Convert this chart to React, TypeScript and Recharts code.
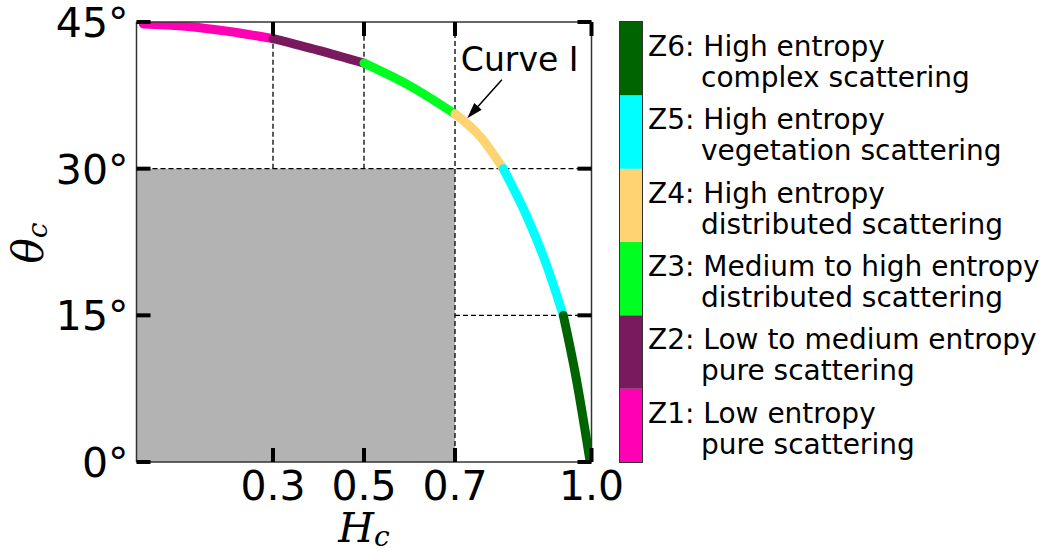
import { ComposedChart, Line, XAxis, YAxis, ReferenceArea, ReferenceLine, BarChart, Bar } from 'recharts'

// curve I
const curveH = [0.015, 0.1, 0.2, 0.3, 0.4, 0.5, 0.6, 0.7, 0.755, 0.806, 0.858, 0.9, 0.938, 0.967, 0.986, 0.996]
const curveTheta = [44.8, 44.6, 44.05, 43.3, 42.1, 40.8, 38.5, 35.6, 33.3, 30.0, 25.1, 20.3, 15.0, 8.4, 3.2, 0.3]

const zoneBreaks = [0, 0.3, 0.5, 0.7, 0.806, 0.938, 1.0]
const zoneColors = ['#ff00b4', '#7a1a5e', '#00ff21', '#ffd272', '#00ffff', '#006400']
const zoneCodes = ['Z1', 'Z2', 'Z3', 'Z4', 'Z5', 'Z6']
const zoneLine1 = ['Low entropy', 'Low to medium entropy', 'Medium to high entropy', 'High entropy', 'High entropy', 'High entropy']
const zoneLine2 = ['pure scattering', 'pure scattering', 'distributed scattering', 'distributed scattering', 'vegetation scattering', 'complex scattering']

const xTicks = [0.3, 0.5, 0.7, 1.0]
const yTicks = [0, 15, 30, 45]

const shadedH = [0, 0.7]
const shadedTheta = [0, 30]

// dashed guides: [h1, t1, h2, t2]
const guides = [
  [0.3, 30, 0.3, 45],
  [0.5, 30, 0.5, 45],
  [0.7, 0, 0.7, 45],
  [0, 30, 1, 30],
  [0.7, 15, 1, 15],
]

const arrowFrom = [0.803, 39.1]
const arrowTo = [0.727, 35.15]

const font = 'DejaVu Sans'

const zoneData = zoneCodes.map((_, i) =>
  curveH
    .map((h, j) => ({ h, t: curveTheta[j] }))
    .filter((p) => p.h >= zoneBreaks[i] && p.h <= zoneBreaks[i + 1])
)

const barRow = [Object.fromEntries([['name', 'zones'], ...zoneCodes.map((c) => [c, 1])])]

const frameLine = { stroke: '#333', strokeWidth: 1.5 }

function BottomTick({ x, y, payload }: any) {
  return (
    <g>
      <line x1={x} y1={y} x2={x} y2={y - 14} stroke="#000" strokeWidth={4} />
      <text x={x} y={y + 38} textAnchor="middle" fontSize={41} fontFamily={font} fill="#000">
        {payload.value.toFixed(1)}
      </text>
    </g>
  )
}

function TopTick({ x, y }: any) {
  return <line x1={x} y1={y} x2={x} y2={y + 14} stroke="#000" strokeWidth={4} />
}

function LeftTick({ x, y, payload }: any) {
  return (
    <g>
      <line x1={x} y1={y} x2={x + 14} y2={y} stroke="#000" strokeWidth={4} />
      <text x={x - 8} y={y + 15} textAnchor="end" fontSize={41} fontFamily={font} fill="#000">
        {payload.value}°
      </text>
    </g>
  )
}

function RightTick({ x, y }: any) {
  return <line x1={x} y1={y} x2={x - 14} y2={y} stroke="#000" strokeWidth={4} />
}

function CurveArrow({ x1, y1, x2, y2 }: any) {
  const dx = x2 - x1
  const dy = y2 - y1
  const len = Math.sqrt(dx * dx + dy * dy)
  const ux = dx / len
  const uy = dy / len
  const bx = x2 - ux * 16
  const by = y2 - uy * 16
  return (
    <g>
      <line x1={x1} y1={y1} x2={bx} y2={by} stroke="#000" strokeWidth={1.5} />
      <polygon
        points={`${x2},${y2} ${bx - uy * 5},${by + ux * 5} ${bx + uy * 5},${by - ux * 5}`}
        fill="#000"
      />
      <text x={x1 - 41} y={y1 - 9} fontSize={33} fontFamily={font} fill="#000">
        Curve I
      </text>
    </g>
  )
}

function ZoneLabel(props: any) {
  const { x, y, width, zone } = props
  const lx = x + width + 6
  return (
    <g>
      <text x={lx} y={y + 34} fontSize={28} fontFamily={font} fill="#000">
        {zoneCodes[zone]}: {zoneLine1[zone]}
      </text>
      <text x={lx + 53} y={y + 65} fontSize={28} fontFamily={font} fill="#000">
        {zoneLine2[zone]}
      </text>
    </g>
  )
}

export default function App() {
  return (
    <div style={{ position: 'absolute', left: 0, top: 0, width: 1043, height: 555, background: '#fff', fontFamily: font }}>
      <ComposedChart width={1043} height={555} margin={{ top: 12, right: 441.5, left: 76.5, bottom: 53 }}>
        <XAxis
          xAxisId="b"
          type="number"
          dataKey="h"
          domain={[0, 1]}
          ticks={xTicks}
          interval={0}
          height={40}
          tickSize={0}
          tickMargin={0}
          tickLine={false}
          axisLine={frameLine}
          tick={<BottomTick />}
          allowDataOverflow
        />
        <XAxis
          xAxisId="t"
          orientation="top"
          type="number"
          dataKey="h"
          domain={[0, 1]}
          ticks={xTicks}
          interval={0}
          height={10}
          tickSize={0}
          tickMargin={0}
          tickLine={false}
          axisLine={frameLine}
          tick={<TopTick />}
          allowDataOverflow
        />
        <YAxis
          yAxisId="l"
          type="number"
          domain={[0, 45]}
          ticks={yTicks}
          interval={0}
          width={60}
          tickSize={0}
          tickMargin={0}
          tickLine={false}
          axisLine={frameLine}
          tick={<LeftTick />}
          allowDataOverflow
        />
        <YAxis
          yAxisId="r"
          orientation="right"
          type="number"
          domain={[0, 45]}
          ticks={yTicks}
          interval={0}
          width={10}
          tickSize={0}
          tickMargin={0}
          tickLine={false}
          axisLine={frameLine}
          tick={<RightTick />}
          allowDataOverflow
        />
        <ReferenceArea
          xAxisId="b"
          yAxisId="l"
          x1={shadedH[0]}
          x2={shadedH[1]}
          y1={shadedTheta[0]}
          y2={shadedTheta[1]}
          fill="#b3b3b3"
          fillOpacity={1}
          stroke="none"
        />
        {guides.map((g, i) => (
          <ReferenceLine
            key={i}
            xAxisId="b"
            yAxisId="l"
            segment={[{ x: g[0], y: g[1] }, { x: g[2], y: g[3] }]}
            stroke="#000"
            strokeWidth={1.3}
            strokeDasharray="5 3"
          />
        ))}
        {zoneData.map((d, i) => (
          <Line
            key={zoneCodes[i]}
            xAxisId="b"
            yAxisId="l"
            data={d}
            dataKey="t"
            type="monotone"
            stroke={zoneColors[i]}
            strokeWidth={9}
            strokeLinecap="round"
            dot={false}
            activeDot={false}
            isAnimationActive={false}
          />
        ))}
        <ReferenceLine
          xAxisId="b"
          yAxisId="l"
          segment={[{ x: arrowFrom[0], y: arrowFrom[1] }, { x: arrowTo[0], y: arrowTo[1] }]}
          shape={<CurveArrow />}
        />
        <text transform="translate(43,243) rotate(-90)" textAnchor="middle" fontFamily="DejaVu Serif" fontStyle="italic" fontSize={42} fill="#000">
          θ<tspan fontSize={28} dy={4}>c</tspan>
        </text>
        <text x={364} y={542} textAnchor="middle" fontFamily="DejaVu Serif" fontStyle="italic" fontSize={41} fill="#000">
          H<tspan fontSize={28} dy={4}>c</tspan>
        </text>
      </ComposedChart>
      <div style={{ position: 'absolute', left: 620, top: 22 }}>
        <BarChart width={423} height={440} data={barRow} margin={{ top: 0, right: 401, left: 0, bottom: 0 }} barCategoryGap={0}>
          <XAxis dataKey="name" type="category" hide />
          <YAxis type="number" domain={[0, 6]} hide />
          {zoneCodes.map((c, i) => (
            <Bar
              key={c}
              dataKey={c}
              stackId="z"
              fill={zoneColors[i]}
              isAnimationActive={false}
              label={(p: any) => <ZoneLabel {...p} zone={i} />}
            />
          ))}
        </BarChart>
        <div style={{ position: 'absolute', left: -1, top: -1, width: 22, height: 440, border: '1px solid #333', pointerEvents: 'none' }} />
      </div>
    </div>
  )
}
